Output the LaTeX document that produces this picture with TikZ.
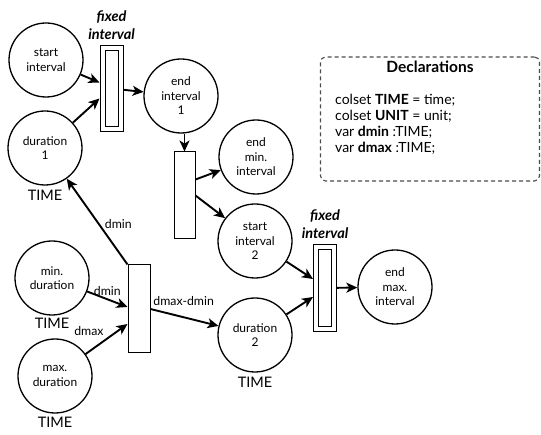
\documentclass[tikz,border=0pt]{standalone}
\usepackage{fontspec}
\setmainfont{Lato}
\usetikzlibrary{arrows.meta}
\usetikzlibrary{positioning}
\tikzset{place/.style = {draw, circle, line width = 1.3pt, minimum size = 74pt, inner sep = 0, align = center, font = \fontsize{12}{14.5}\selectfont}}
\tikzset{trans/.style = {draw, rectangle, line width = 1pt, fill = white, inner sep = 0, minimum width = 21pt, minimum height = 87pt}}
\tikzset{fixtrans/.style = {trans, double, double distance = 4pt, line width = 1pt, minimum width = 18pt, minimum height = 81pt, outer sep = 3pt}}
\tikzset{arc/.style = {-{Stealth[length = 11pt, width = 10pt, inset = 3pt]}, line width = 1.9pt}}
\tikzset{colour/.style = {inner sep = 2pt, font = \fontsize{14.5}{16}\selectfont}}
\tikzset{fixlabel/.style = {align = center, inner sep = 1pt, font = \fontsize{14.5}{18}\selectfont\bfseries\itshape}}
\tikzset{inscr/.style = {inner sep = 2pt, font = \fontsize{12.3}{13}\selectfont}}

\begin{document}
\begin{tikzpicture}[x = 1pt, y = -1pt]
    \useasboundingbox (0, 0) rectangle (541, 435);

    \node [place] (startI) at (46, 60) {start\\interval};
    \node [place] (durI) at (45, 148) {duration\\1};
    \node [place] (endI) at (181, 96) {end\\interval\\1};
    \node [place] (endMin) at (256, 157) {end\\min.\\interval};
    \node [place] (startII) at (255, 241) {start\\interval\\2};
    \node [place] (durII) at (255, 335) {duration\\2};
    \node [place] (endMax) at (395, 287) {end\\max.\\interval};
    \node [place] (minDur) at (52, 278) {min.\\duration};
    \node [place] (maxDur) at (55, 376) {max.\\duration};

    \node [colour, below = 2pt of durI] (durIT) {TIME};
    \node [colour, below = 0pt of minDur] (minDurT) {TIME};
    \node [colour, below = 2pt of durII] (durIIT) {TIME};
    \node [colour, below = 1pt of maxDur] (maxDurT) {TIME};

    \node [fixtrans] (fixI) at (111.5, 88.5) {};
    \node [trans] (tEnd) at (184.5, 195.5) {};
    \node [trans, minimum width = 22pt, minimum height = 88pt] (tDur) at (139, 309) {};
    \node [fixtrans, minimum height = 82pt] (fixII) at (325, 288) {};

    \node [fixlabel, above = 4pt of fixI] (fixIL) {fixed\\interval};
    \node [fixlabel, above = 4pt of fixII] (fixIIL) {fixed\\interval};

    \draw [arc] (startI) -- ([yshift = 6pt]fixI.west);
    \draw [arc] (durI) -- ([yshift = -10pt]fixI.west);
    \draw [arc] (fixI) -- (endI);
    \draw [arc] (endI.south -| tEnd.north) -- (tEnd.north);
    \draw [arc] ([yshift = 16pt]tEnd.east) -- (endMin);
    \draw [arc] (tEnd.east) -- (startII);
    \draw [arc] (tDur.north west) -- (durI) node [inscr, pos = 0.47, right = 3pt] (dminL) {dmin};
    \draw [arc] (minDur) -- ([yshift = 2pt]tDur.west) node [inscr, pos = 0.5, above = 1pt] (dminLL) {dmin};
    \draw [arc] (maxDur) -- ([yshift = -15pt]tDur.west) node [inscr, pos = 0.5, above left] (dmaxL) {dmax};
    \draw [arc] (tDur.east) -- (durII) node [inscr, pos = 0, above right] (diffL) {dmax-dmin};
    \draw [arc] (startII) -- ([yshift = 9pt]fixII.west);
    \draw [arc] (durII) -- ([yshift = -9pt]fixII.west);
    \draw [arc] (fixII) -- (endMax);

    % declarations
    \node [draw = black!70, dashed, dash pattern = on 4pt off 3pt, line width = 1.1pt, rounded corners = 5pt, minimum width = 219pt, minimum height = 124pt] (decl) at (430, 119) {};
    \node [below = 1pt of decl.north, font = \fontsize{15.5}{17}\selectfont\bfseries] (declTitle) {Declarations};
    \node [anchor = north west, align = left, inner sep = 0, font = \fontsize{14}{16}\selectfont] (declBody) at (335, 94) {colset \textbf{TIME} = time;\\colset \textbf{UNIT} = unit;\\var \textbf{dmin} :TIME;\\var \textbf{dmax} :TIME;};
\end{tikzpicture}
\end{document}
